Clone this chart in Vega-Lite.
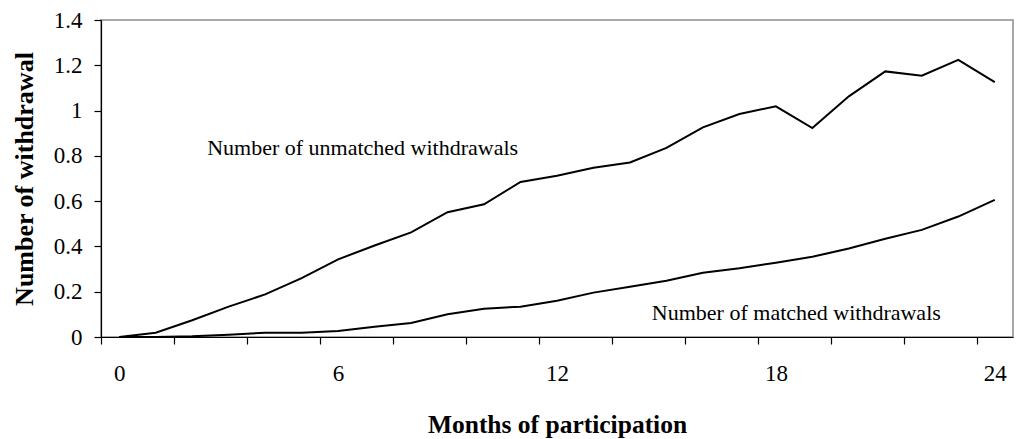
{
  "$schema": "https://vega.github.io/schema/vega-lite/v6.json",
  "width": 912,
  "height": 317,
  "autosize": {"type": "none"},
  "padding": {"left": 101, "top": 20, "right": 3, "bottom": 102},
  "background": "white",
  "config": {
    "view": {"stroke": "#8c8c8c", "strokeWidth": 1.5},
    "font": "Liberation Serif"
  },
  "layer": [
    {
      "data": {
        "values": [
          {"month": 0, "series": "unmatched", "value": 0},
          {"month": 1, "series": "unmatched", "value": 0.019},
          {"month": 2, "series": "unmatched", "value": 0.074},
          {"month": 3, "series": "unmatched", "value": 0.134},
          {"month": 4, "series": "unmatched", "value": 0.188},
          {"month": 5, "series": "unmatched", "value": 0.26},
          {"month": 6, "series": "unmatched", "value": 0.343},
          {"month": 7, "series": "unmatched", "value": 0.404},
          {"month": 8, "series": "unmatched", "value": 0.462},
          {"month": 9, "series": "unmatched", "value": 0.551},
          {"month": 10, "series": "unmatched", "value": 0.586},
          {"month": 11, "series": "unmatched", "value": 0.685},
          {"month": 12, "series": "unmatched", "value": 0.712},
          {"month": 13, "series": "unmatched", "value": 0.747},
          {"month": 14, "series": "unmatched", "value": 0.771},
          {"month": 15, "series": "unmatched", "value": 0.835},
          {"month": 16, "series": "unmatched", "value": 0.926},
          {"month": 17, "series": "unmatched", "value": 0.985},
          {"month": 18, "series": "unmatched", "value": 1.019},
          {"month": 19, "series": "unmatched", "value": 0.923},
          {"month": 20, "series": "unmatched", "value": 1.063},
          {"month": 21, "series": "unmatched", "value": 1.173},
          {"month": 22, "series": "unmatched", "value": 1.154},
          {"month": 23, "series": "unmatched", "value": 1.224},
          {"month": 24, "series": "unmatched", "value": 1.126},
          {"month": 0, "series": "matched", "value": 0},
          {"month": 1, "series": "matched", "value": 0},
          {"month": 2, "series": "matched", "value": 0.003},
          {"month": 3, "series": "matched", "value": 0.01},
          {"month": 4, "series": "matched", "value": 0.019},
          {"month": 5, "series": "matched", "value": 0.019},
          {"month": 6, "series": "matched", "value": 0.027},
          {"month": 7, "series": "matched", "value": 0.045},
          {"month": 8, "series": "matched", "value": 0.062},
          {"month": 9, "series": "matched", "value": 0.1},
          {"month": 10, "series": "matched", "value": 0.125},
          {"month": 11, "series": "matched", "value": 0.134},
          {"month": 12, "series": "matched", "value": 0.16},
          {"month": 13, "series": "matched", "value": 0.196},
          {"month": 14, "series": "matched", "value": 0.222},
          {"month": 15, "series": "matched", "value": 0.248},
          {"month": 16, "series": "matched", "value": 0.284},
          {"month": 17, "series": "matched", "value": 0.304},
          {"month": 18, "series": "matched", "value": 0.328},
          {"month": 19, "series": "matched", "value": 0.354},
          {"month": 20, "series": "matched", "value": 0.391},
          {"month": 21, "series": "matched", "value": 0.434},
          {"month": 22, "series": "matched", "value": 0.473},
          {"month": 23, "series": "matched", "value": 0.532},
          {"month": 24, "series": "matched", "value": 0.606}
        ]
      },
      "mark": {"type": "line", "color": "black", "strokeWidth": 2},
      "encoding": {
        "x": {
          "field": "month",
          "type": "quantitative",
          "scale": {"domain": [-0.5, 24.5], "nice": false, "zero": false},
          "axis": {
            "title": "Months of participation",
            "titleFont": "Liberation Serif",
            "titleFontSize": 25.5,
            "titleFontWeight": "bold",
            "titleColor": "black",
            "titlePadding": 27,
            "values": [-0.5, 0.5, 1.5, 2.5, 3.5, 4.5, 5.5, 6.5, 7.5, 8.5, 9.5, 10.5, 11.5, 12.5, 13.5, 14.5, 15.5, 16.5, 17.5, 18.5, 19.5, 20.5, 21.5, 22.5, 23.5, 24.5],
            "labelExpr": "(datum.value + 0.5) % 6 == 0 && datum.value < 24 ? format(datum.value + 0.5, 'd') : ''",
            "labelOffset": 18.24,
            "labelFlush": false,
            "labelOverlap": false,
            "labelBound": false,
            "labelFont": "Liberation Serif",
            "labelFontSize": 23,
            "labelColor": "black",
            "labelPadding": 18,
            "tickSize": 7,
            "tickColor": "black",
            "tickWidth": 1.2,
            "domainColor": "black",
            "domainWidth": 1.2,
            "grid": false
          }
        },
        "y": {
          "field": "value",
          "type": "quantitative",
          "scale": {"domain": [0, 1.4], "nice": false},
          "axis": {
            "title": "Number of withdrawal",
            "titleFont": "Liberation Serif",
            "titleFontSize": 26,
            "titleFontWeight": "bold",
            "titleColor": "black",
            "titlePadding": 16,
            "values": [0, 0.2, 0.4, 0.6, 0.8, 1, 1.2, 1.4],
            "format": "~g",
            "labelFont": "Liberation Serif",
            "labelFontSize": 23,
            "labelColor": "black",
            "labelPadding": 12,
            "tickSize": 7,
            "tickColor": "black",
            "tickWidth": 1.2,
            "domainColor": "black",
            "domainWidth": 1.2,
            "grid": false
          }
        },
        "detail": {"field": "series", "type": "nominal"}
      }
    },
    {
      "data": {
        "values": [
          {"month": 2.41, "value": 0.835, "label": "Number of unmatched withdrawals"},
          {"month": 14.6, "value": 0.105, "label": "Number of matched withdrawals"}
        ]
      },
      "mark": {"type": "text", "align": "left", "baseline": "middle", "font": "Liberation Serif", "fontSize": 22, "color": "black"},
      "encoding": {
        "x": {"field": "month", "type": "quantitative"},
        "y": {"field": "value", "type": "quantitative"},
        "text": {"field": "label"}
      }
    }
  ]
}
